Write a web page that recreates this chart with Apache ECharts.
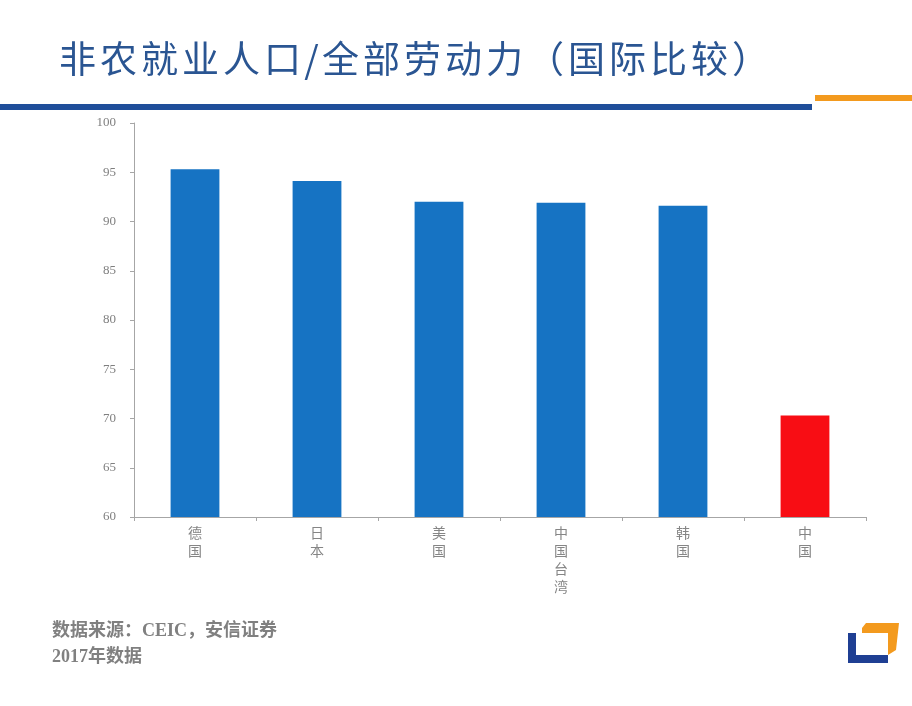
<!DOCTYPE html>
<html><head><meta charset="utf-8">
<script src="https://cdn.jsdelivr.net/npm/echarts@6/dist/echarts.min.js"></script>
<style>html,body{margin:0;padding:0;background:#fff}#c{width:912px;height:706px}</style>
</head><body><div id="c"></div>
<script>
const categories = ['德国','日本','美国','中国台湾','韩国','中国'];
const values = [95.3, 94.1, 92.0, 91.9, 91.6, 70.3];
const highlight = '中国';
const yTicks = {min: 60, max: 100, interval: 5};
const titleText = '非农就业人口/全部劳动力（国际比较）';
const sourceLines = ['数据来源：CEIC，安信证券', '2017年数据'];

const chart = echarts.init(document.getElementById('c'));
const serif = '"Liberation Serif","Times New Roman","Noto Sans CJK SC",serif';
const titleRich = titleText.split('').map(ch => ch === '/' ? '{s|/}' : '{c|' + ch + '}').join('');
const tStyle = {fontFamily: '"Noto Sans CJK SC",sans-serif', fontSize: 37, fontWeight: 'normal', color: '#2a5592', align: 'center'};
chart.setOption({
  backgroundColor: '#fff',
  animation: false,
  title: {
    text: titleRich, left: 52, top: 35,
    textStyle: {
      fontFamily: '"Noto Sans CJK SC",sans-serif', fontSize: 37, fontWeight: 'normal', color: '#2a5592',
      rich: {
        c: Object.assign({width: 41}, tStyle),
        s: Object.assign({width: 17}, tStyle)
      }
    }
  },
  grid: {left: 134, right: 46, top: 123, bottom: 189},
  xAxis: {
    type: 'category', data: categories,
    axisLine: {lineStyle: {color: '#a6a6a6', width: 1}},
    axisTick: {show: true, length: 4, lineStyle: {color: '#a6a6a6'}},
    axisLabel: {
      interval: 0, margin: 8, color: '#858585', fontFamily: serif, fontSize: 14, lineHeight: 18,
      formatter: v => v.split('').join('\n')
    }
  },
  yAxis: {
    type: 'value', min: yTicks.min, max: yTicks.max, interval: yTicks.interval,
    axisLine: {show: true, lineStyle: {color: '#a6a6a6'}},
    axisTick: {show: true, length: 4, lineStyle: {color: '#a6a6a6'}},
    splitLine: {show: false},
    axisLabel: {color: '#7f7f7f', fontFamily: serif, fontSize: 13, margin: 18}
  },
  series: [{
    type: 'bar', barWidth: '40%',
    data: values.map((v, i) => ({
      value: v,
      itemStyle: {color: categories[i] === highlight ? '#f80d14' : '#1673c3'}
    }))
  }],
  graphic: [
    {type: 'rect', shape: {x: 0, y: 104, width: 812, height: 6}, style: {fill: '#1f4e9a'}},
    {type: 'rect', shape: {x: 815, y: 95, width: 97, height: 6}, style: {fill: '#f39a1e'}},
    {type: 'text', left: 52, top: 622, style: {text: sourceLines[0], font: 'bold 18px ' + serif, fill: '#808080'}},
    {type: 'text', left: 52, top: 648, style: {text: sourceLines[1], font: 'bold 18px ' + serif, fill: '#808080'}},
    {type: 'polygon', shape: {points: [[848,633],[856,633],[856,655],[888,655],[888,663],[848,663]]}, style: {fill: '#1f3f93'}},
    {type: 'polygon', shape: {points: [[862,628],[866,623],[899,623],[896,650],[888,655],[888,633],[862,633]]}, style: {fill: '#f39a1e'}}
  ]
});
</script></body></html>
